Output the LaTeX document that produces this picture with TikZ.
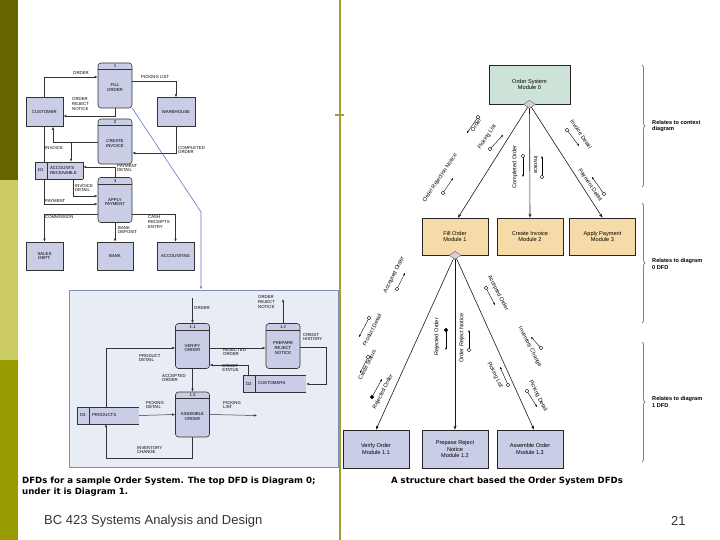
\documentclass[tikz,border=0pt]{standalone}
\usepackage{fontspec}
\setmainfont{Liberation Sans}
\newfontfamily\capf{DejaVu Sans}
\usetikzlibrary{arrows.meta,shapes.geometric,backgrounds,decorations.pathreplacing}
\definecolor{procc}{HTML}{C9CDE6}
\definecolor{olA}{HTML}{666600}
\definecolor{olB}{HTML}{CCCC66}
\definecolor{olC}{HTML}{999900}
\definecolor{olL}{HTML}{A0A030}
\definecolor{frameF}{HTML}{E8ECF5}
\definecolor{frameD}{HTML}{7E8EB8}
\definecolor{mgreen}{HTML}{CDE3D8}
\definecolor{morange}{HTML}{F6DBA8}
\definecolor{lilac}{HTML}{DCCDE0}
\definecolor{brc}{HTML}{7080B0}
\newcommand\tinyf{\fontsize{4.3}{4.8}\selectfont}
\newcommand\chf{\fontsize{5.6}{6.6}\selectfont}
\newcommand\cpl[3]{\draw[-{Stealth[length=2.5pt,width=2pt]},line width=0.4pt] #1 -- #2; \draw[fill=#3,line width=0.4pt] #1 circle (1.8);}
\tikzset{
 proc/.style={draw=black!80,fill=procc,rounded corners=3pt,minimum width=34pt,minimum height=45pt,inner sep=0pt,line width=0.6pt},
 ent/.style={draw=black!80,fill=procc,minimum width=37pt,minimum height=29pt,inner sep=0pt,align=center,font=\tinyf,line width=0.6pt},
 ds/.style={fill=procc,minimum height=17pt,inner sep=0pt},
 fl/.style={draw=black!80,line width=0.5pt,-{Latex[length=3pt,width=2.4pt]}},
 lb/.style={font=\tinyf,align=left,inner sep=0pt,anchor=west},
 mod/.style={draw=black!85,line width=0.6pt,minimum width=66pt,minimum height=37pt,align=center,font=\chf,inner sep=1pt},
 dia/.style={diamond,draw=black!60,fill=lilac,minimum width=12pt,minimum height=8pt,inner sep=0pt,aspect=1.6},
 sa/.style={draw=black!90,line width=0.6pt,-{Stealth[length=4pt,width=3pt]}},
 cl/.style={font=\chf,inner sep=0.5pt},
 rel/.style={font=\fontsize{5.6}{6.6}\selectfont\bfseries,align=left,anchor=west,inner sep=0pt},
 brace/.style={draw=brc,line width=0.8pt,decorate,decoration={brace,amplitude=3pt}},
 capt/.style={font=\capf\fontsize{8.6}{11}\selectfont\bfseries,inner sep=0pt}
}
\newcommand\proca[4]{%
 \node[proc] (#1) at #2 {};
 \draw[black!80,line width=0.5pt] ([yshift=-7pt]#1.north west) -- ([yshift=-7pt]#1.north east);
 \node[font=\tinyf,inner sep=0pt] at ([yshift=-3.5pt]#1.north) {#3};
 \node[font=\tinyf,align=center,inner sep=0pt] at ([yshift=-2pt]#1.center) {#4};}
\newcommand\dstore[5]{%
 \node[ds,minimum width=#3] (#1) at #2 {};
 \draw[black!80,line width=0.5pt] (#1.north east) -- (#1.north west) -- (#1.south west) -- (#1.south east);
 \draw[black!80,line width=0.5pt] ([xshift=12pt]#1.north west) -- ([xshift=12pt]#1.south west);
 \node[font=\tinyf,inner sep=0pt] at ([xshift=6pt]#1.west) {#4};
 \node[font=\tinyf,anchor=west,inner sep=0pt,align=left] at ([xshift=15pt]#1.west) {#5};}
\begin{document}
\begin{tikzpicture}[x=1pt,y=-1pt]
\useasboundingbox (0,0) rectangle (720,540);
% side bands
\fill[olA] (0,0) rectangle (18,180);
\fill[olB] (0,180) rectangle (18,360);
\fill[olC] (0,360) rectangle (18,540);
\draw[olL,line width=1.8pt] (340,0) -- (340,540);
\draw[olL,line width=2.2pt] (335,115) -- (344,115);

% ===== Diagram 0 =====
\proca{fill}{(115,85.5)}{1}{FILL\\ORDER}
\node[ent] (cust) at (44.5,112) {CUSTOMER};
\node[ent,minimum width=38pt] (ware) at (176,112) {WAREHOUSE};
\proca{inv}{(115,141.5)}{2}{CREATE\\INVOICE}
\dstore{ar}{(59,170.5)}{48pt}{D1}{ACCOUNTS\\RECEIVABLE}
\draw[black!80,line width=0.5pt] (ar.north east) -- (ar.south east);
\proca{pay}{(115,200)}{3}{APPLY\\PAYMENT}
\node[ent,minimum height=28pt] (sales) at (44.5,256) {SALES\\DEPT.};
\node[ent,minimum height=28pt,minimum width=36pt] (bank) at (115,256) {BANK};
\node[ent,minimum height=28pt] (acct) at (175.5,256) {ACCOUNTING};

% ===== Diagram 1 =====
\begin{scope}[on background layer]
\node[draw=frameD,fill=frameF,line width=1pt,minimum width=269pt,minimum height=177pt] (box1) at (203.5,378.5) {};
\end{scope}
\proca{v}{(192.5,346)}{1.1}{VERIFY\\ORDER}
\proca{p2}{(283,346)}{1.2}{PREPARE\\REJECT\\NOTICE}
\proca{a3}{(192.5,414.5)}{1.3}{ASSEMBLE\\ORDER}
\dstore{d2}{(274.5,383.5)}{63pt}{D2}{CUSTOMERS}
\dstore{d3}{(108,415.5)}{62pt}{D3}{PRODUCTS}

\coordinate (o1) at (192.5,298);
\coordinate (orn) at (283,299);
\coordinate (ch) at (326,384);
\coordinate (pl) at (257,415.5);
\coordinate (ic) at (106,458);
\coordinate (bl) at (201,212);

\begin{scope}[on background layer]
\draw[fl] (cust.north) |- (fill.west|-0,77);
\draw[fl] (fill.east|-0,81) -| (ware.north);
\draw[fl] (fill.south) |- (cust.east|-0,116);
\draw[fl] (ware.south) |- (inv.east|-0,153);
\draw[fl] (inv.west|-0,142) -| (cust.south-|53,0);
\draw[fl] (71,142) -- (ar.north-|71,0);
\draw[fl] (pay.north) |- (ar.east|-0,167);
\draw[fl] (ar.south-|73,0) |- (pay.west|-0,196);
\draw[fl] (cust.south) |- (pay.west|-0,204);
\draw[fl] (pay.west|-0,214) -| (sales.north);
\draw[fl] (pay.south) -- (bank.north);
\draw[fl] (pay.east|-0,214) -| (acct.north);
\draw[draw=frameD!80!blue,line width=0.6pt,-{Latex[length=3pt,width=2.4pt]}] (fill.south east) -- (bl) -- (box1.north-|bl);
\draw[fl] (o1) -- (v.north);
\draw[fl] (p2.north) -- (orn);
\draw[fl] (v.east|-0,348) -- (p2.west|-0,348);
\draw[fl] (p2.east|-0,347) -| (ch) -- (d2.east|-0,384);
\draw[fl] (d2.north-|248,0) |- (v.east|-0,365);
\draw[fl] (d3.north-|106,0) |- (v.west|-0,348);
\draw[fl] (v.south) -- (a3.north);
\draw[fl] (d3.east) -- (a3.west);
\draw[fl] (a3.east) -- (pl);
\draw[fl] (a3.south) |- (ic) -- (d3.south-|ic);
\end{scope}

% labels diagram 0
\node[lb] at (73,73) {ORDER};
\node[lb] at (141,77) {PICKING LIST};
\node[lb] at (72,104) {ORDER\\REJECT\\NOTICE};
\node[lb] at (178,150) {COMPLETED\\ORDER};
\node[lb] at (45,148) {INVOICE};
\node[lb] at (117,168) {PAYMENT\\DETAIL};
\node[lb] at (75,188) {INVOICE\\DETAIL};
\node[lb] at (45,201) {PAYMENT};
\node[lb] at (45,217) {COMMISSION};
\node[lb] at (118,230) {BANK\\DEPOSIT};
\node[lb] at (148,222) {CASH\\RECEIPTS\\ENTRY};
% labels diagram 1
\node[lb] at (194,308) {ORDER};
\node[lb] at (258,302) {ORDER\\REJECT\\NOTICE};
\node[lb] at (223,352) {REJECTED\\ORDER};
\node[lb] at (303,337) {CREDIT\\HISTORY};
\node[lb] at (222,368) {CREDIT\\STATUS};
\node[lb] at (139,358) {PRODUCT\\DETAIL};
\node[lb] at (162,378) {ACCEPTED\\ORDER};
\node[lb] at (146,405) {PICKING\\DETAIL};
\node[lb] at (223,405) {PICKING\\LIST};
\node[lb] at (137,450) {INVENTORY\\CHANGE};

\node[capt,align=left,anchor=north west] at (22,477) {DFDs for a sample Order System. The top DFD is Diagram 0;\\under it is Diagram 1.};

% ===== Structure chart =====
\node[mod,fill=mgreen,minimum width=81pt,minimum height=39pt] (m0) at (529.5,84.5) {Order System\\Module 0};
\node[mod,fill=morange] (m1) at (455,236.5) {Fill Order\\Module 1};
\node[mod,fill=morange] (m2) at (530,236.5) {Create Invoice\\Module 2};
\node[mod,fill=morange] (m3) at (602.5,236.5) {Apply Payment\\Module 3};
\node[mod,fill=procc,minimum height=38pt] (m11) at (376,449) {Verify Order\\Module 1.1};
\node[mod,fill=procc,minimum height=38pt] (m12) at (455,449) {Prepase Reject\\Notice\\Module 1.2};
\node[mod,fill=procc,minimum height=38pt] (m13) at (530,449) {Assemble Order\\Module 1.3};
\draw[sa] (m0.south) -- ([xshift=3pt]m1.north);
\draw[sa] (m0.south) -- (m2.north);
\draw[sa] (m0.south) -- (m3.north);
\draw[sa] (m1.south) -- (m11.north);
\draw[sa] (m1.south) -- (m12.north);
\draw[sa] (m1.south) -- ([xshift=4pt]m13.north);
\node[dia] (d0) at (m0.south) {};
\node[dia] (d1) at (m1.south) {};

\node[cl,rotate=56] at (476,125) {Order};
\cpl{(478,117)}{(467,133)}{white}
\node[cl,rotate=56] at (487,137) {Picking List};
\cpl{(490,149)}{(503,135)}{white}
\node[cl,rotate=56] at (440,178) {Order Rejection Notice};
\cpl{(443,193)}{(453,178)}{white}
\node[cl,rotate=90] at (515,167) {Completed Order};
\cpl{(523,156)}{(523,177)}{white}
\node[cl,rotate=-90] at (536,165) {Invoice};
\cpl{(542,177)}{(542,156)}{white}
\node[cl,rotate=-56] at (581,134) {Invoice Detail};
\cpl{(567,130)}{(579,146)}{white}
\node[cl,rotate=-56] at (590,185) {Payment Detail};
\cpl{(604,194)}{(592,177)}{white}
\node[cl,rotate=63] at (394,275) {Accepted Order};
\cpl{(397,289)}{(405,273)}{white}
\node[cl,rotate=63] at (372,330) {Product Detail};
\cpl{(369,318)}{(359,337)}{white}
\node[cl,rotate=63] at (367,365) {Credit Status};
\cpl{(368,357)}{(360,373)}{white}
\node[cl,rotate=63] at (383,392) {Rejected Order};
\cpl{(372,397)}{(382,379)}{black}
\node[cl,rotate=90] at (437,337) {Rejected Order};
\cpl{(446,330)}{(446,350)}{black}
\node[cl,rotate=90] at (462,338) {Order Reject Notice};
\cpl{(469,350)}{(469,330)}{white}
\node[cl,rotate=-63] at (498,293) {Accepted Order};
\cpl{(486,288)}{(495,305)}{white}
\node[cl,rotate=-63] at (530,347) {Inventory Change};
\cpl{(541,348)}{(531,337)}{white}
\node[cl,rotate=-63] at (495,375) {Picking List};
\cpl{(508,385)}{(500,367)}{white}
\node[cl,rotate=-63] at (538,396) {Picking Detail};
\cpl{(527,391)}{(537,407)}{white}

\coordinate (b1t) at (642,65); \coordinate (b1b) at (642,187);
\coordinate (b2t) at (642,203); \coordinate (b2b) at (642,323);
\coordinate (b3t) at (642,342); \coordinate (b3b) at (642,462);
\draw[brace] (b1t) -- (b1b);
\draw[brace] (b2t) -- (b2b);
\draw[brace] (b3t) -- (b3b);
\node[rel] at (652,126) {Relates to context\\diagram};
\node[rel] at (652,264) {Relates to diagram\\0 DFD};
\node[rel] at (652,402) {Relates to diagram\\1 DFD};

\node[capt] at (507,481) {A structure chart based the Order System DFDs};

\node[font=\fontsize{13}{15}\selectfont,text=black!80,anchor=west,inner sep=0pt] at (44,521) {BC 423 Systems Analysis and Design};
\node[font=\fontsize{13}{15}\selectfont,text=black!80,anchor=west,inner sep=0pt] at (671,521) {21};
\end{tikzpicture}
\end{document}
